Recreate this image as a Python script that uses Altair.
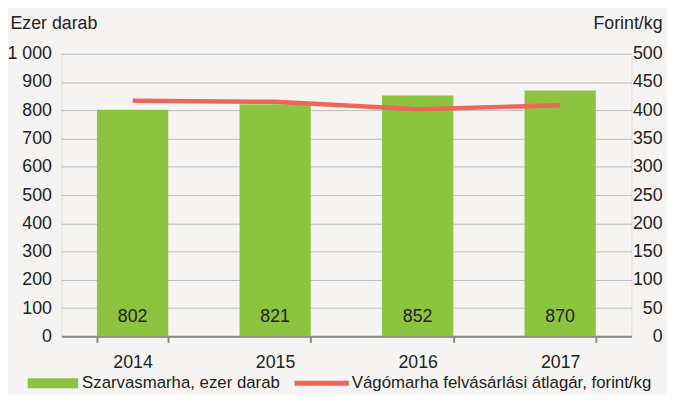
import altair as alt
import pandas as pd

years = ["2014", "2015", "2016", "2017"]
cattle = [802, 821, 852, 870]
price = [417, 415, 402, 409]
bar_name = "Szarvasmarha, ezer darab"
line_name = "Vágómarha felvásárlási átlagár, forint/kg"

df = pd.DataFrame({"year": years, "cattle": cattle, "price": price,
                   "s1": bar_name, "s2": line_name})

FONT = "Liberation Sans Narrow, Liberation Sans"
GREEN = "#8DC43F"
RED = "#EF6559"
FS = 18
LFS = 17

x = alt.X("year:N", title=None,
          scale=alt.Scale(paddingInner=0.5, paddingOuter=0.25),
          axis=alt.Axis(labelAngle=0, labelFontSize=FS, labelColor="#222",
                        labelPadding=12, tickSize=6, tickBand="extent",
                        tickColor="#888", tickWidth=2, domainColor="#888",
                        domainWidth=2, grid=False))

left_axis = alt.Axis(values=list(range(0, 1001, 100)),
                     labelExpr="datum.value >= 1000 ? '1 000' : datum.label",
                     labelOverlap=False,
                     labelFontSize=FS, labelColor="#222", labelPadding=10,
                     tickSize=0, domain=False, grid=True,
                     gridColor="#BBBBBB", gridWidth=1,
                     titleAngle=0, titleAlign="left", titleBaseline="middle",
                     titleX=-52, titleY=-31, titleFontSize=FS,
                     titleFontWeight="normal", titleColor="#222")
left_scale = alt.Scale(domain=[0, 1000])

bars = alt.Chart(df).mark_bar(color=GREEN).encode(
    x=x,
    y=alt.Y("cattle:Q", title="Ezer darab", scale=left_scale, axis=left_axis),
    color=alt.Color("s1:N", title=None,
                    scale=alt.Scale(domain=[bar_name], range=[GREEN]),
                    legend=alt.Legend(orient="none", legendX=-34, legendY=308,
                                      padding=0,
                                      symbolType="M-1,-0.2H1V0.2H-1Z",
                                      symbolSize=2601, symbolStrokeWidth=0,
                                      labelFontSize=LFS, labelColor="#222",
                                      labelOffset=4, labelLimit=400)),
)

labels = alt.Chart(df).mark_text(baseline="bottom", dy=-11, fontSize=FS,
                                 color="#222").encode(
    x=x,
    y=alt.YDatum(0, title="Ezer darab", scale=left_scale, axis=left_axis),
    text="cattle:Q",
)

line = alt.Chart(df).mark_line(strokeWidth=4.5, color=RED).encode(
    x=x,
    y=alt.Y("price:Q", title="Forint/kg",
            scale=alt.Scale(domain=[0, 500]),
            axis=alt.Axis(orient="right", values=list(range(0, 501, 50)),
                          labelOverlap=False,
                          labelFontSize=FS, labelColor="#222", labelAlign="right",
                          labelPadding=31, tickSize=0, domain=False, grid=False,
                          titleAngle=0, titleAlign="right", titleBaseline="middle",
                          titleX=31, titleY=-31, titleFontSize=FS,
                          titleFontWeight="normal", titleColor="#222")),
    color=alt.Color("s2:N", title=None,
                    scale=alt.Scale(domain=[line_name], range=[RED]),
                    legend=alt.Legend(orient="none", legendX=236, legendY=306,
                                      padding=0,
                                      symbolType="M-1,-0.09H1V0.09H-1Z",
                                      symbolSize=3025, symbolStrokeWidth=0,
                                      symbolFillColor=RED,
                                      labelFontSize=LFS, labelColor="#222",
                                      labelOffset=3, labelLimit=500)),
)

left = alt.layer(bars, labels)
chart = alt.layer(left, line).resolve_scale(y="independent", color="independent").properties(
    width=577, height=286,
    autosize=alt.AutoSizeParams(type="none"),
    padding={"left": 54, "top": 44, "right": 36, "bottom": 57},
    background="#F5F4F2",
).configure_view(stroke=None).configure(font=FONT)

chart.save("out.html", embed_options={"renderer": "svg", "actions": False})
